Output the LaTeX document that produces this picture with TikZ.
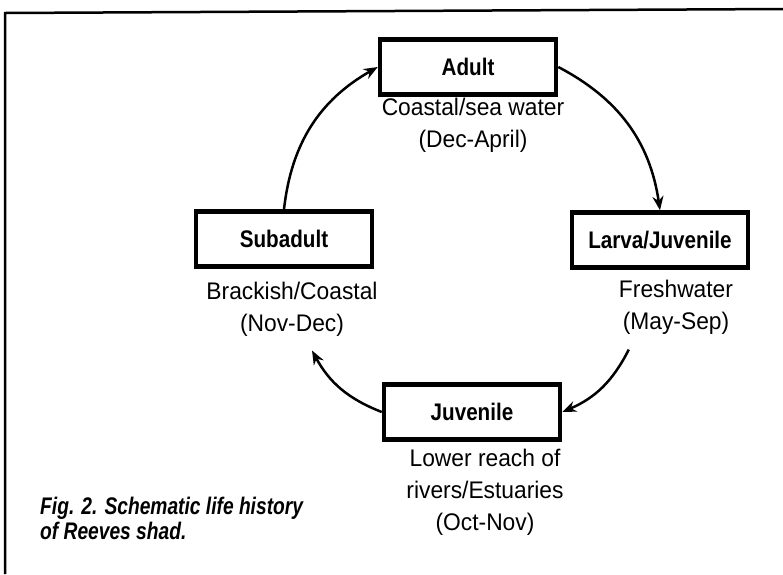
\documentclass[tikz,border=0pt]{standalone}
\usepackage{fontspec}
\setmainfont{Liberation Sans}[FakeStretch=0.95]
\newfontfamily\stagefont{Liberation Sans}[FakeStretch=0.86]
\newfontfamily\capfont{Liberation Sans}[FakeStretch=0.8]
\usetikzlibrary{arrows.meta, positioning}

\begin{document}
\begin{tikzpicture}[x=1pt, y=-1pt,
  stage/.style={draw, line width=4.5pt, minimum width=176pt, minimum height=55pt, inner sep=0pt, font=\stagefont\fontsize{24}{28}\selectfont\bfseries},
  habitat/.style={align=center, inner sep=0pt, font=\fontsize{24}{32}\selectfont},
  caption/.style={align=left, inner sep=0pt, font=\capfont\fontsize{24}{25}\selectfont\bfseries\itshape},
  cycle/.style={-{Stealth[open, length=14pt, width=11pt]}, line width=2.5pt},
]
  \useasboundingbox (0,0) rectangle (783,574);
  \fill[white] (0,0) rectangle (783,574);
  % frame, only top and left edge inside the page
  \draw[line width=2.5pt] (5,574) -- (5,13) -- (783,9);

  \node[stage] (adult) at (468,67)  {Adult};
  \node[stage] (larva) at (660,240) {Larva/Juvenile};
  \node[stage] (juv)   at (472,412) {Juvenile};
  \node[stage] (sub)   at (284,239) {Subadult};

  \node[habitat, below=1pt of adult, xshift=5pt]  (adulttxt) {Coastal/sea water\\(Dec-April)};
  \node[habitat, below=10pt of larva, xshift=16pt] (larvatxt) {Freshwater\\(May-Sep)};
  \node[habitat, below=7pt of juv, xshift=13pt]    (juvtxt)   {Lower reach of\\rivers/Estuaries\\(Oct-Nov)};
  \node[habitat, below=13pt of sub, xshift=8pt]    (subtxt)   {Brackish/Coastal\\(Nov-Dec)};

  \node[caption, anchor=north west] (cap) at (40,497) {Fig. 2. Schematic life history\\of Reeves shad.};

  % life cycle arrows
  \coordinate (larvaout) at ([shift={(10,15)}]larvatxt.south west);
  \coordinate (subin)    at ([shift={(20,14)}]subtxt.south);
  \draw[cycle] (adult.east) to[bend left=27] (larva.north);
  \draw[cycle] (larvaout)   to[bend left=20] (juv.east);
  \draw[cycle] (juv.west)   to[bend left=20] (subin);
  \draw[cycle] (sub.north)  to[bend left=27] (adult.west);
\end{tikzpicture}
\end{document}
